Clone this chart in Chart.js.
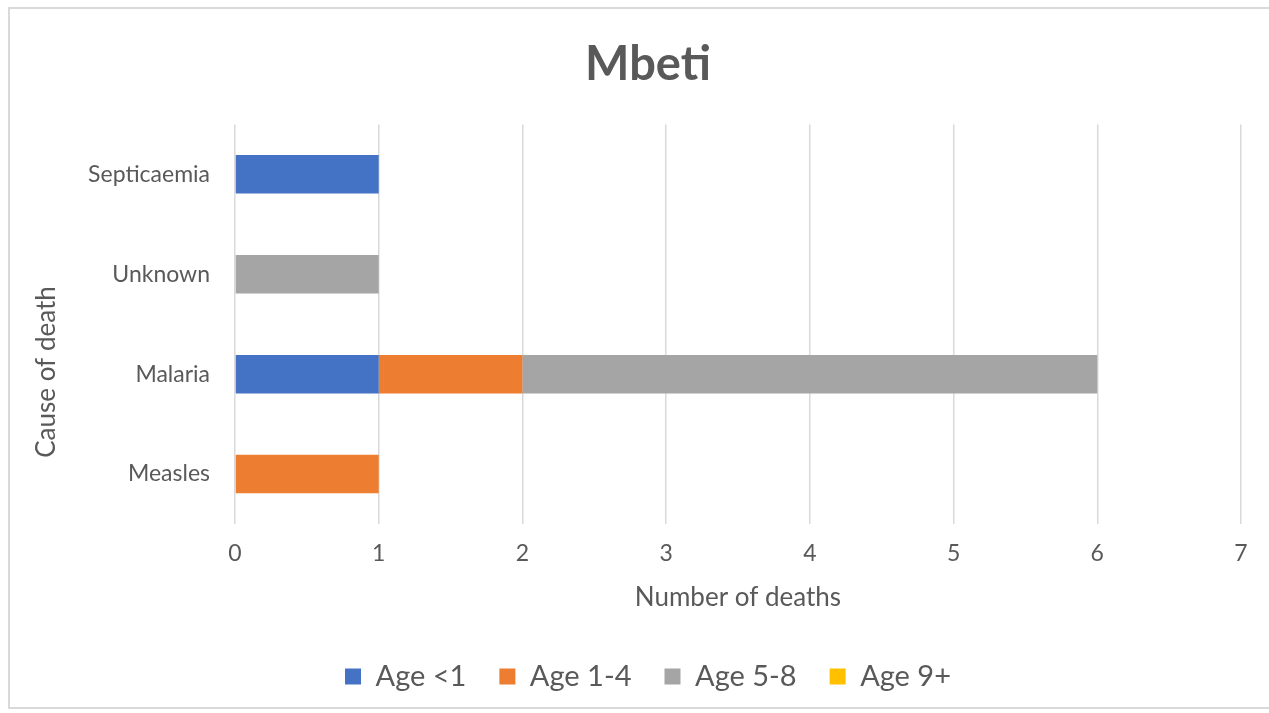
<!DOCTYPE html>
<html>
<head>
<meta charset="utf-8">
<script src="https://cdn.jsdelivr.net/npm/chart.js@4"></script>
<style>
    body { margin: 0; background: #fff; overflow: hidden; width: 1269px; height: 713px; }
    #frame { position: absolute; left: 8px; top: 7px; width: 1276px; height: 698px; border: 2px solid #d9d9d9; background: #fff; }
    #chart { display: block; }
</style>
</head>
<body>
<div id="frame"><canvas id="chart" width="1276" height="698"></canvas></div>
<script>
var causes = ["Septicaemia", "Unknown", "Malaria", "Measles"];
var ageUnder1 = [1, 0, 1, 0];
var age1to4 = [0, 0, 1, 1];
var age5to8 = [0, 1, 4, 0];
var age9plus = [0, 0, 0, 0];
var xTicks = [0, 1, 2, 3, 4, 5, 6, 7];

var textColor = "#595959";
var fontName = "Lato, 'Open Sans', sans-serif";

// y axis title drawn by hand so it sits where Excel put it
var yTitlePlugin = {
    id: "yTitle",
    afterDraw: function (chart) {
        var ctx = chart.ctx;
        ctx.save();
        ctx.translate(37, 363);
        ctx.rotate(-Math.PI / 2);
        ctx.font = "26px " + fontName;
        ctx.fillStyle = textColor;
        ctx.textAlign = "center";
        ctx.textBaseline = "middle";
        ctx.fillText("Cause of death", 0, 0);
        ctx.restore();
    }
};

new Chart(document.getElementById("chart"), {
    type: "bar",
    data: {
        labels: causes,
        datasets: [
            { label: "Age <1", data: ageUnder1, backgroundColor: "#4472C4" },
            { label: "Age 1-4", data: age1to4, backgroundColor: "#ED7D31" },
            { label: "Age 5-8", data: age5to8, backgroundColor: "#A5A5A5" },
            { label: "Age 9+", data: age9plus, backgroundColor: "#FFC000" }
        ]
    },
    options: {
        indexAxis: "y",
        responsive: false,
        animation: false,
        categoryPercentage: 1,
        barPercentage: 0.385,
        layout: { padding: { left: 45, right: 45, top: 0, bottom: 6 } },
        plugins: {
            title: {
                display: true,
                text: "Mbeti",
                color: textColor,
                font: { family: fontName, size: 47, weight: "bold" },
                padding: { top: 28, bottom: 31 }
            },
            legend: {
                position: "bottom",
                labels: {
                    color: textColor,
                    font: { family: fontName, size: 29 },
                    boxWidth: 16,
                    boxHeight: 16,
                    padding: 33
                }
            },
            tooltip: { enabled: false }
        },
        scales: {
            x: {
                stacked: true,
                min: 0,
                max: 7,
                afterBuildTicks: function (scale) {
                    scale.ticks = xTicks.map(function (v) { return { value: v }; });
                },
                grid: { color: "#d9d9d9", lineWidth: 1.5, drawTicks: false },
                border: { display: false },
                ticks: {
                    color: textColor,
                    font: { family: fontName, size: 23 },
                    padding: 16
                },
                title: {
                    display: true,
                    text: "Number of deaths",
                    color: textColor,
                    font: { family: fontName, size: 26 },
                    padding: { top: 4, bottom: 16 }
                },
                afterFit: function (scale) { scale.height = 105; }
            },
            y: {
                stacked: true,
                grid: { display: false, drawTicks: false },
                border: { display: false },
                ticks: {
                    color: textColor,
                    font: { family: fontName, size: 23 },
                    padding: 25
                },
                afterFit: function (scale) { scale.width = 180; }
            }
        }
    },
    plugins: [yTitlePlugin]
});
</script>
</body>
</html>
